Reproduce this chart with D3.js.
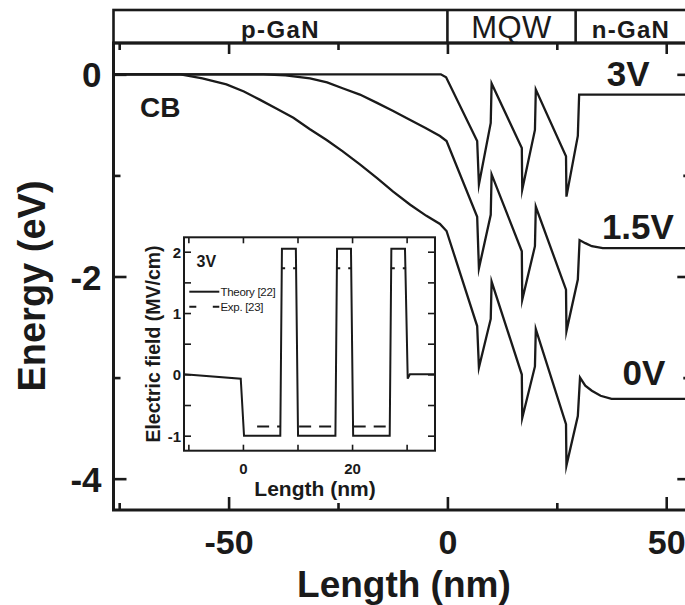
<!DOCTYPE html>
<html><head><meta charset="utf-8">
<script src="https://cdn.jsdelivr.net/npm/d3@7"></script>
<style>
html,body{margin:0;padding:0;background:#fff;}
svg{display:block;}
text{font-family:"Liberation Sans",Arial,Helvetica,sans-serif;fill:#1a1a1a;}
</style></head><body>
<svg id="chart" width="685" height="605"></svg>
<script>
// ---------------- data ----------------
const regionNames = ["p-GaN", "MQW", "n-GaN"];
const regionBounds = [-76.3, 0, 29.3, 55.5];
const xTicksMain = [-75, -50, -25, 0, 25, 50];
const xTickLabels = [-50, 0, 50];
const yTicksMain = [0, -1, -2, -3, -4];
const yTickLabels = [0, -2, -4];
const biasLabels = ["3V", "1.5V", "0V"];

// conduction band, 3 V
const cb3VX = [-76.3, -1.5, -0.3, 6.8, 7.2, 9.9, 10.1, 17.0, 17.1, 20.0, 20.2, 27.1, 27.2, 29.8, 30.1, 55.5];
const cb3VE = [0, 0, -0.03, -0.66, -1.09, -0.48, -0.09, -0.73, -1.14, -0.55, -0.15, -0.81, -1.21, -0.61, -0.20, -0.20];
// conduction band, 1.5 V
const cb15VX = [-76.3, -42, -37, -31.4, -27.5, -23.8, -20, -16.2, -12.5, -8.6, -5, -1.7, -0.2, 6.8, 7.2, 9.9, 10.1, 17.0, 17.1, 20.0, 20.2, 27.1, 27.2, 29.8, 30.2, 31.5, 33, 35.5, 55.5];
const cb15VE = [0, 0, -0.01, -0.04, -0.08, -0.14, -0.20, -0.28, -0.36, -0.45, -0.53, -0.61, -0.66, -1.41, -1.92, -1.39, -0.99, -1.75, -2.23, -1.70, -1.31, -2.13, -2.54, -2.03, -1.64, -1.67, -1.70, -1.72, -1.72];
// conduction band, 0 V
const cb0VX = [-76.3, -61, -56, -50.5, -46.5, -42.9, -39, -35.2, -31.5, -27.6, -24, -20, -16, -12.4, -8.5, -4.8, -1.7, -0.2, 6.8, 7.2, 9.9, 10.1, 17.0, 17.1, 20.0, 20.2, 27.1, 27.2, 29.8, 30.3, 31.5, 33, 35, 37.5, 55.5];
const cb0VE = [0, 0, -0.04, -0.10, -0.17, -0.25, -0.34, -0.43, -0.54, -0.65, -0.76, -0.89, -1.03, -1.16, -1.29, -1.40, -1.48, -1.55, -2.49, -2.90, -2.42, -2.05, -2.97, -3.40, -2.89, -2.52, -3.46, -3.87, -3.38, -3.00, -3.08, -3.13, -3.18, -3.21, -3.21];

// inset: electric field (MV/cm) at 3V
const insetXTicks = [-10, 0, 10, 20, 30];
const insetXLabels = [0, 20];
const insetYTicks = [-1, -0.5, 0, 0.5, 1, 1.5, 2];
const insetYLabels = [-1, 0, 1, 2];
const theoryX = [-10.8, -0.4, 0.2, 6.85, 7.15, 9.7, 10.1, 16.95, 17.25, 19.8, 20.2, 26.9, 27.2, 29.7, 30.2, 30.6, 35.2];
const theoryF = [0, -0.07, -1, -1, 2.05, 2.05, -1, -1, 2.05, 2.05, -1, -1, 2.05, 2.05, -0.07, 0, 0];
const expX0 = [2.6, 7.0, 10.3, 17.1, 20.3, 27.1];
const expX1 = [6.9, 9.9, 16.9, 19.9, 26.9, 29.9];
const expF = [-0.85, 1.73, -0.85, 1.73, -0.85, 1.73];
const legendNames = ["Theory [22]", "Exp. [23]"];

// ---------------- drawing ----------------
const ink = "#1a1a1a";
const svg = d3.select("#chart");
const L = 113.5, R = 690.3, T = 43, B = 510, boxTop = 10;
const x = d3.scaleLinear().domain([-76.3, 55.5]).range([L, R]);
const y = d3.scaleLinear().domain([0.31, -4.31]).range([T, B]);

svg.append("defs").append("clipPath").attr("id", "plotclip")
  .append("rect").attr("x", L).attr("y", T).attr("width", R - L).attr("height", B - T);

// curves
const series = [
  {xs: cb3VX, es: cb3VE},
  {xs: cb15VX, es: cb15VE},
  {xs: cb0VX, es: cb0VE}
];
const line = d3.line().x(d => x(d[0])).y(d => y(d[1]));
svg.append("g").attr("clip-path", "url(#plotclip)")
  .selectAll("path").data(series).join("path")
  .attr("d", s => line(s.xs.map((v, i) => [v, s.es[i]])))
  .attr("fill", "none").attr("stroke", ink).attr("stroke-width", 2.3)
  .attr("stroke-linejoin", "miter").attr("stroke-miterlimit", 10);

// axes: bottom (ticks inward)
const gB = svg.append("g").attr("transform", `translate(0,${B})`)
  .call(d3.axisBottom(x).tickValues(xTicksMain).tickFormat(d => xTickLabels.includes(d) ? String(d) : "").tickSizeOuter(0));
gB.select(".domain").remove();
gB.selectAll(".tick line").attr("y2", d => d % 50 === 0 ? -13 : -7).attr("stroke", ink).attr("stroke-width", 2.6);
gB.selectAll(".tick text").attr("y", 44).attr("dy", 0).attr("font-size", 34).attr("font-weight", "bold").attr("fill", ink);

// top ticks (pointing down from box)
const gT = svg.append("g").attr("transform", `translate(0,${T})`)
  .call(d3.axisTop(x).tickValues(xTicksMain).tickFormat("").tickSizeOuter(0));
gT.select(".domain").remove();
gT.selectAll(".tick line").attr("y2", d => d % 50 === 0 ? 11 : 7).attr("stroke", ink).attr("stroke-width", 2.6);

// left axis
const gL = svg.append("g").attr("transform", `translate(${L},0)`)
  .call(d3.axisLeft(y).tickValues(yTicksMain).tickFormat(d => yTickLabels.includes(d) ? String(d) : "").tickSizeOuter(0));
gL.select(".domain").remove();
gL.selectAll(".tick line").attr("x2", d => d % 2 === 0 ? 13 : 7).attr("stroke", ink).attr("stroke-width", 2.6);
gL.selectAll(".tick text").attr("x", -12).attr("dy", "0.36em").attr("font-size", 35).attr("font-weight", "bold").attr("fill", ink);

// right axis
const gR = svg.append("g").attr("transform", `translate(${R},0)`)
  .call(d3.axisRight(y).tickValues(yTicksMain).tickFormat("").tickSizeOuter(0));
gR.select(".domain").remove();
gR.selectAll(".tick line").attr("x2", d => d % 2 === 0 ? -13 : -7).attr("stroke", ink).attr("stroke-width", 2.6);

// spines
const spine = svg.append("g").attr("fill", "none").attr("stroke", ink).attr("stroke-width", 3);
spine.append("rect").attr("x", L).attr("y", T).attr("width", R - L).attr("height", B - T);
// region box on top
spine.append("rect").attr("x", L).attr("y", boxTop).attr("width", R - L).attr("height", T - boxTop).attr("stroke-width", 2.6);
spine.selectAll("line.div").data(regionBounds.slice(1, 3)).join("line")
  .attr("x1", d => x(d)).attr("x2", d => x(d)).attr("y1", boxTop).attr("y2", T).attr("stroke-width", 2.6);

// region names
const regionStyle = [
  {size: 24, weight: "bold", ls: 1.4},
  {size: 31, weight: "normal", ls: 0.5},
  {size: 24, weight: "bold", ls: 1.3}
];
svg.selectAll("text.region").data(regionNames).join("text").attr("class", "region")
  .attr("x", (d, i) => (x(regionBounds[i]) + x(regionBounds[i + 1])) / 2 + (i === 2 ? -2 : 0))
  .attr("y", 37.5)
  .attr("text-anchor", "middle")
  .attr("font-size", (d, i) => regionStyle[i].size)
  .attr("font-weight", (d, i) => regionStyle[i].weight)
  .attr("letter-spacing", (d, i) => regionStyle[i].ls)
  .text(d => d);

// axis titles
svg.append("text").attr("x", (L + R) / 2 + 2).attr("y", 597).attr("text-anchor", "middle")
  .attr("font-size", 37).attr("font-weight", "bold").text("Length (nm)");
svg.append("text").attr("transform", `translate(45,286) rotate(-90)`).attr("text-anchor", "middle")
  .attr("font-size", 38).attr("font-weight", "bold").text("Energy (eV)");

// annotations
svg.append("text").attr("x", 140).attr("y", 117).attr("font-size", 28).attr("font-weight", "bold").text("CB");
const biasPos = [[36.4, -0.12], [35.3, -1.63], [40.0, -3.07]];
svg.selectAll("text.bias").data(biasLabels).join("text").attr("class", "bias")
  .attr("x", (d, i) => x(biasPos[i][0])).attr("y", (d, i) => y(biasPos[i][1]))
  .attr("font-size", 35).attr("font-weight", "bold").text(d => d);

// ---------------- inset ----------------
const iL = 184, iR = 435, iT = 237.3, iB = 450.7;
const ix = d3.scaleLinear().domain([-10.8, 35.2]).range([iL, iR]);
const iy = d3.scaleLinear().domain([2.235, -1.245]).range([iT, iB]);
const ins = svg.append("g");
ins.append("rect").attr("x", iL).attr("y", iT).attr("width", iR - iL).attr("height", iB - iT).attr("fill", "#fff");

ins.append("defs").append("clipPath").attr("id", "insclip")
  .append("rect").attr("x", iL).attr("y", iT).attr("width", iR - iL).attr("height", iB - iT);

const iline = d3.line().x(d => ix(d[0])).y(d => iy(d[1]));
ins.append("path").attr("clip-path", "url(#insclip)")
  .attr("d", iline(theoryX.map((v, i) => [v, theoryF[i]])))
  .attr("fill", "none").attr("stroke", ink).attr("stroke-width", 2);
ins.append("g").selectAll("line").data(expF).join("line")
  .attr("x1", (d, i) => ix(expX0[i])).attr("x2", (d, i) => ix(expX1[i]))
  .attr("y1", d => iy(d)).attr("y2", d => iy(d))
  .attr("stroke", ink).attr("stroke-width", 2)
  .attr("stroke-dasharray", d => d > 0 ? "4,8" : "12,8");

const giB = ins.append("g").attr("transform", `translate(0,${iB})`)
  .call(d3.axisBottom(ix).tickValues(insetXTicks).tickFormat(d => insetXLabels.includes(d) ? String(d) : "").tickSizeOuter(0));
giB.select(".domain").remove();
giB.selectAll(".tick line").attr("y2", -6).attr("stroke", ink).attr("stroke-width", 1.6);
giB.selectAll(".tick text").attr("y", 23).attr("dy", 0).attr("font-size", 15).attr("font-weight", "bold").attr("fill", ink);

const giT = ins.append("g").attr("transform", `translate(0,${iT})`)
  .call(d3.axisTop(ix).tickValues(insetXTicks).tickFormat("").tickSizeOuter(0));
giT.select(".domain").remove();
giT.selectAll(".tick line").attr("y2", 6).attr("stroke", ink).attr("stroke-width", 1.6);

const giL = ins.append("g").attr("transform", `translate(${iL},0)`)
  .call(d3.axisLeft(iy).tickValues(insetYTicks).tickFormat(d => insetYLabels.includes(d) ? String(d) : "").tickSizeOuter(0));
giL.select(".domain").remove();
giL.selectAll(".tick line").attr("x2", 7).attr("stroke", ink).attr("stroke-width", 1.6);
giL.selectAll(".tick text").attr("x", -3).attr("dy", "0.36em").attr("font-size", 15).attr("font-weight", "bold").attr("fill", ink);

const giR = ins.append("g").attr("transform", `translate(${iR},0)`)
  .call(d3.axisRight(iy).tickValues(insetYTicks).tickFormat("").tickSizeOuter(0));
giR.select(".domain").remove();
giR.selectAll(".tick line").attr("x2", -7).attr("stroke", ink).attr("stroke-width", 1.6);

ins.append("rect").attr("x", iL).attr("y", iT).attr("width", iR - iL).attr("height", iB - iT)
  .attr("fill", "none").attr("stroke", ink).attr("stroke-width", 2);

ins.append("text").attr("x", 315).attr("y", 496).attr("text-anchor", "middle")
  .attr("font-size", 21).attr("font-weight", "bold").text("Length (nm)");
ins.append("text").attr("transform", `translate(160,${(iT + iB) / 2}) rotate(-90)`).attr("text-anchor", "middle")
  .attr("font-size", 19.5).attr("font-weight", "bold").text("Electric field (MV/cm)");
ins.append("text").attr("x", 196.5).attr("y", 266.5).attr("font-size", 16).attr("font-weight", "bold").text("3V");

// legend
const legY = [291.7, 306.7];
ins.selectAll("line.leg").data(legendNames).join("line").attr("class", "leg")
  .attr("x1", 189.3).attr("x2", 219.3).attr("y1", (d, i) => legY[i]).attr("y2", (d, i) => legY[i])
  .attr("stroke", ink).attr("stroke-width", 2)
  .attr("stroke-dasharray", (d, i) => i === 0 ? null : "7,16.5");
ins.selectAll("text.leg").data(legendNames).join("text").attr("class", "leg")
  .attr("x", 220.5).attr("y", (d, i) => legY[i] + 4.3)
  .attr("font-size", 11.5).attr("letter-spacing", -0.3).text(d => d);
</script>
</body></html>
